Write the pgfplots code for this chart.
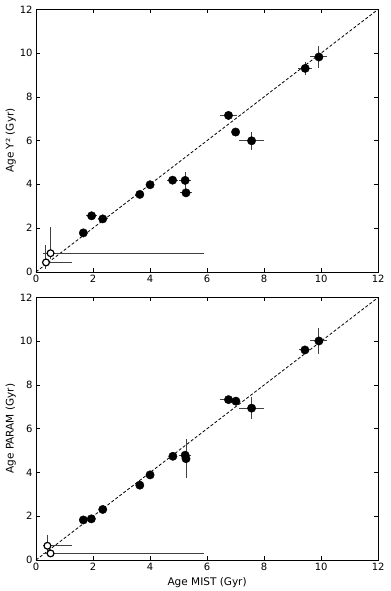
\documentclass[border=0pt]{standalone}
\usepackage{fontspec}
\setmainfont{DejaVu Sans}
\usepackage{pgfplots}
\pgfplotsset{compat=1.18}
\pgfplotstableread{
x y ex ey
1.66 1.78 0.08 0.08
1.95 2.56 0.18 0.15
2.34 2.42 0.18 0.10
3.64 3.54 0.12 0.10
4.00 3.98 0.12 0.10
4.79 4.19 0.20 0.08
5.23 4.18 0.20 0.38
5.26 3.61 0.22 0.10
6.75 7.15 0.30 0.22
7.00 6.39 0.10 0.10
7.56 5.99 0.43 0.42
9.44 9.30 0.25 0.30
9.92 9.82 0.30 0.50
}\topdata
\pgfplotstableread{
x y ex ey
1.66 1.83 0.10 0.08
1.94 1.88 0.10 0.08
2.34 2.31 0.12 0.10
3.64 3.42 0.10 0.10
4.00 3.89 0.10 0.10
4.80 4.74 0.10 0.08
5.23 4.79 0.22 0.10
5.26 4.63 0.10 0.88
6.75 7.33 0.30 0.10
7.01 7.26 0.10 0.08
7.56 6.94 0.43 0.50
9.43 9.60 0.22 0.12
9.92 10.01 0.30 0.60
}\botdata
\begin{document}
\begin{tikzpicture}
\path[use as bounding box] (-36pt,-319pt) rectangle (354pt,271.7pt);
\pgfplotsset{
  myax/.style={scale only axis, width=342pt, height=262.4pt,
    xmin=0, xmax=12, ymin=0, ymax=12,
    xtick={0,2,...,12}, ytick={0,2,...,12},
    tick align=inside, major tick length=4pt,
    tick style={black, line width=0.5pt},
    ticklabel style={font=\fontsize{10}{12}\selectfont},
    /pgf/number format/assume math mode=true,
    label style={font=\fontsize{10.5}{12}\selectfont},
    ylabel shift=-3pt,
    axis line style={line width=0.6pt},
    clip=false},
  filled/.style={only marks, mark=*, mark size=4.2pt, black,
    error bars/.cd, x dir=both, x explicit, y dir=both, y explicit,
    error mark=none, error bar style={black!75, line width=1pt}},
  openc/.style={only marks, mark=*, mark size=3.4pt, mark options={fill=white, draw=black, line width=1.2pt},
    error bars/.cd, x dir=both, x explicit, y dir=both, y explicit,
    error mark=none, error bar style={black!75, line width=1pt}},
}
\begin{axis}[myax, at={(0,0)}, ylabel={Age Y² (Gyr)}]
\addplot[black, dashed, dash pattern=on 3pt off 2pt, line width=0.8pt] coordinates {(0,0) (12,12)};
\addplot[filled] table[x=x, y=y, x error=ex, y error=ey] {\topdata};
\addplot[openc] coordinates {(0.35,0.43) += (0.90,0.80) -= (0.15,0.28)};
\addplot[openc] coordinates {(0.51,0.85) += (5.38,1.18) -= (0.25,0.25)};
\end{axis}
\begin{axis}[myax, at={(0,-288pt)}, ylabel={Age PARAM (Gyr)}, xlabel={Age MIST (Gyr)}]
\addplot[black, dashed, dash pattern=on 3pt off 2pt, line width=0.8pt] coordinates {(0,0) (12,12)};
\addplot[filled] table[x=x, y=y, x error=ex, y error=ey] {\botdata};
\addplot[openc] coordinates {(0.40,0.65) += (0.85,0.50) -= (0.15,0.30)};
\addplot[openc] coordinates {(0.51,0.30) += (5.38,0.10) -= (0.25,0.10)};
\end{axis}
\end{tikzpicture}
\end{document}
